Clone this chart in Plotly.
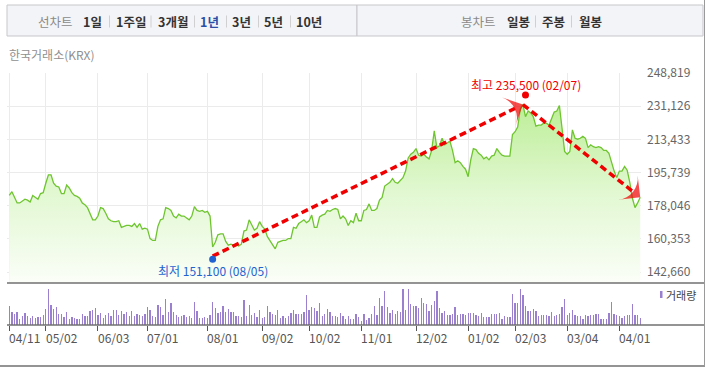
import pandas as pd
import plotly.graph_objects as go

# ---------------- data ----------------
START_DATE = "2024-04-11"
END_DATE = "2025-04-11"
KRX_HOLIDAYS = ["2024-05-01", "2024-05-06", "2024-05-15", "2024-06-06", "2024-08-15",
                "2024-09-16", "2024-09-17", "2024-09-18", "2024-10-01", "2024-10-03",
                "2024-10-09", "2024-12-25", "2024-12-31", "2025-01-01", "2025-01-27",
                "2025-01-28", "2025-01-29", "2025-01-30", "2025-03-03"]
dates = [d.strftime("%Y-%m-%d") for d in pd.bdate_range(START_DATE, END_DATE)
         if d.strftime("%Y-%m-%d") not in KRX_HOLIDAYS]

close_prices = [
    183500, 185500, 182500, 179500, 179500, 180500, 181500, 181000, 180000, 183500,
    182500, 181500, 184500, 185000, 190000, 194500, 194500, 190000, 188500, 188000,
    184500, 184500, 189000, 187500, 185000, 183500, 183000, 182000, 179500, 178500,
    177000, 173500, 170500, 170500, 172500, 177000, 176500, 174000, 171000, 170000,
    169500, 169500, 170000, 166500, 167000, 167500, 167500, 167000, 168500, 166500,
    168500, 165500, 166000, 165500, 160500, 159500, 159500, 167000, 170500, 171000,
    177000, 176500, 175500, 172500, 171500, 173500, 172500, 172500, 171500, 170500,
    172500, 177500, 175500, 175000, 175500, 174500, 175000, 172500, 156000, 158500,
    162500, 163000, 163000, 159000, 157000, 157500, 157000, 157500, 156500, 157500,
    164500, 165000, 170500, 167500, 165000, 166000, 169500, 167000, 165500, 161500,
    159500, 157500, 155000, 158500, 159000, 159500, 159500, 160500, 160500, 166500,
    166000, 168500, 169500, 170500, 169000, 170000, 173000, 166500, 166500, 172000,
    173000, 173500, 175500, 175000, 176000, 176500, 176000, 171000, 172500, 171000,
    167500, 170000, 169000, 174000, 170000, 170000, 175500, 176000, 179000, 175500,
    175500, 176500, 181000, 182500, 188500, 189500, 190500, 192500, 190500, 190000,
    191500, 193000, 196500, 203500, 205500, 206500, 208500, 205000, 204500, 205500,
    204000, 203000, 207500, 218000, 209000, 210000, 214000, 210500, 211500, 212500,
    207500, 201000, 202000, 201000, 199000, 197500, 193500, 202500, 208500, 208000,
    206000, 205000, 203000, 204000, 202500, 204500, 205000, 208500, 206500, 205000,
    204500, 204500, 204500, 216000, 217500, 220000, 229500, 232000, 225500, 228500,
    227500, 225500, 220500, 221000, 221000, 222000, 222000, 221000, 225000, 228000,
    228500, 231500, 219500, 207000, 205500, 207000, 218500, 214000, 213500, 214000,
    215000, 214000, 209000, 210500, 209500, 209000, 209500, 209000, 207500, 207500,
    206000, 201000, 196500, 193000, 196500, 196500, 199000, 197000, 190500, 182000,
    177000, 179500, 182500,
]

volumes_k = [
    2850, 1950, 1600, 2000, 900, 1350, 1800, 1350, 1000, 1350,
    1100, 1150, 1250, 1500, 2400, 5400, 3000, 2450, 2650, 1650,
    1650, 1250, 1950, 900, 1250, 1100, 850, 850, 1650, 1350,
    1350, 2100, 2250, 2500, 1500, 1750, 1050, 1500, 1800, 1350,
    2250, 2250, 1500, 2100, 1650, 1900, 1400, 2100, 1400, 1600,
    1500, 1400, 1650, 2700, 2250, 1350, 1150, 3000, 2750, 1500,
    3900, 1900, 3300, 1950, 1500, 1250, 1350, 1500, 1250, 1350,
    1000, 3450, 2100, 1000, 1000, 1150, 1100, 1500, 3450, 2500,
    1750, 1900, 2850, 1900, 2400, 2000, 1900, 1350, 1350, 1250,
    3750, 1350, 3000, 1500, 1750, 1150, 2250, 1100, 1250, 2850,
    1950, 1600, 1500, 2250, 1100, 1350, 1000, 1350, 1850, 2250,
    1600, 1650, 1650, 1950, 4500, 2250, 2650, 2600, 2100, 3300,
    1350, 1600, 2350, 1950, 1350, 1350, 1250, 1750, 1350, 850,
    1350, 950, 850, 1600, 1250, 600, 1650, 750, 1100, 1650,
    2850, 1500, 4100, 2850, 5100, 2750, 1750, 2250, 1650, 2100,
    1900, 5400, 2250, 5400, 3150, 2850, 2850, 2550, 4050, 3250,
    3150, 2100, 3000, 3600, 5100, 2500, 1750, 2050, 1500, 1500,
    1650, 2700, 1500, 1650, 1650, 1500, 1750, 1800, 1800, 1500,
    1350, 1800, 1150, 1150, 1250, 1650, 1650, 1650, 1750, 950,
    1350, 1150, 1150, 4650, 3300, 3300, 5400, 4500, 2850, 2100,
    2100, 2350, 2100, 1350, 1500, 1500, 1450, 1350, 1900, 1350,
    1500, 1650, 2650, 3900, 1500, 1800, 2250, 1500, 1350, 1350,
    950, 1500, 1350, 1450, 1450, 1650, 1650, 950, 950, 950,
    1800, 3450, 1650, 1450, 1350, 1100, 1350, 1500, 1500, 3150,
    1500, 1500, 1100,
]

tick_dates = ["2024-04-11", "2024-05-02", "2024-06-03", "2024-07-01", "2024-08-01",
              "2024-09-02", "2024-10-02", "2024-11-01", "2024-12-02", "2025-01-02",
              "2025-02-03", "2025-03-04", "2025-04-01"]
tick_labels = ["04/11", "05/02", "06/03", "07/01", "08/01", "09/02", "10/02",
               "11/01", "12/02", "01/02", "02/03", "03/04", "04/01"]
price_ticks = [142660, 160353, 178046, 195739, 213433, 231126, 248819]

high_date, high_value = "2025-02-07", 235500
low_date, low_value = "2024-08-05", 151100

line_periods = ["1일", "1주일", "3개월", "1년", "3년", "5년", "10년"]
candle_periods = ["일봉", "주봉", "월봉"]

# ---------------- layout geometry ----------------
W, H = 707, 367
ML, MR, MT, MB = 7, 66, 73, 42
PW, PH = W - ML - MR, H - MT - MB
VOL_H = 42


def px_x(px):
    return (px - ML) / PW


def px_y(py):
    return (H - MB - py) / PH


FONT = "Noto Sans CJK KR"
RED = "#f00000"
BLUE = "#1f62d0"

peak_i = close_prices.index(max(close_prices))
peak_date, peak_close = dates[peak_i], close_prices[peak_i]
last_date, last_close = dates[-1], close_prices[-1]

fig = go.Figure()

fig.add_trace(go.Scatter(
    x=dates, y=close_prices, mode="lines", fill="tozeroy",
    line=dict(color="#6ec52f", width=1.3),
    fillgradient=dict(type="vertical",
                      colorscale=[[0, "#fbfef8"], [0.5, "#e2f8d2"], [1, "#bdee98"]],
                      start=136791, stop=max(close_prices)),
    xaxis="x", yaxis="y", hoverinfo="skip"))

fig.add_trace(go.Bar(
    x=dates, y=volumes_k, xaxis="x2", yaxis="y2", width=0.5,
    marker=dict(color="#9a80cf", line=dict(width=0)), hoverinfo="skip"))

dash = "7px,4px"
for xs, ys in [([low_date, peak_date], [low_value, peak_close]),
               ([peak_date, last_date], [peak_close, last_close])]:
    fig.add_trace(go.Scatter(
        x=xs, y=ys, mode="lines+markers", xaxis="x", yaxis="y",
        line=dict(color=RED, width=3.5, dash=dash),
        marker=dict(symbol="arrow-wide", size=[0, 22], color=RED, angleref="previous",
                    line=dict(width=0)),
        hoverinfo="skip"))

shapes = []
# high / low dots
shapes.append(dict(type="circle", xref="x", yref="y", xsizemode="pixel", ysizemode="pixel",
                   xanchor=high_date, yanchor=high_value, x0=-3.5, x1=3.5, y0=-0.5, y1=6.5,
                   fillcolor=RED, line=dict(width=0)))
shapes.append(dict(type="circle", xref="x", yref="y", xsizemode="pixel", ysizemode="pixel",
                   xanchor=low_date, yanchor=low_value, x0=-3.5, x1=3.5, y0=-6.5, y1=0.5,
                   fillcolor=BLUE, line=dict(width=0)))

# frame lines
AX = "#707070"
shapes.append(dict(type="line", xref="paper", yref="paper", x0=px_x(7), x1=px_x(705),
                   y0=px_y(283), y1=px_y(283), line=dict(color=AX, width=1.5)))
shapes.append(dict(type="line", xref="paper", yref="paper", x0=px_x(7), x1=px_x(705),
                   y0=px_y(325), y1=px_y(325), line=dict(color=AX, width=1.5)))
shapes.append(dict(type="line", xref="paper", yref="paper", x0=px_x(0), x1=px_x(705),
                   y0=px_y(366), y1=px_y(366), line=dict(color=AX, width=1.5)))
shapes.append(dict(type="line", xref="paper", yref="paper", x0=px_x(704.5), x1=px_x(704.5),
                   y0=px_y(0), y1=px_y(366), line=dict(color="#9a9a9a", width=1)))

# top bar boxes
for x0, x1 in [(7, 357), (357, 703)]:
    shapes.append(dict(type="rect", xref="paper", yref="paper", x0=px_x(x0), x1=px_x(x1),
                       y0=px_y(36), y1=px_y(5), fillcolor="#f3f4f7",
                       line=dict(color="#c6c7ca", width=1), layer="below"))

annotations = []


def add_text(text, cx, cy, color, size=12.5, bold=False, anchor="center"):
    annotations.append(dict(text=f"<b>{text}</b>" if bold else text, x=px_x(cx), y=px_y(cy),
                            xref="paper", yref="paper", showarrow=False, xanchor=anchor,
                            yanchor="middle", font=dict(family=FONT, size=size, color=color)))


add_text("선차트", 55.5, 21, "#8a8a8a")
line_centers = [92.5, 130.5, 172.5, 209.5, 241, 273.5, 308.5]
for lbl, cx in zip(line_periods, line_centers):
    add_text(lbl, cx, 21, "#2b4fa8" if lbl == "1년" else "#333333", bold=True)
for sx in [109.5, 151, 194.5, 226.5, 258.5, 290.5]:
    shapes.append(dict(type="line", xref="paper", yref="paper", x0=px_x(sx), x1=px_x(sx),
                       y0=px_y(15.5), y1=px_y(27.5), line=dict(color="#d0d0d0", width=1)))
add_text("봉차트", 478.5, 21, "#8a8a8a")
for lbl, cx in zip(candle_periods, [518, 553, 590]):
    add_text(lbl, cx, 21, "#333333", bold=True)
for sx in [535.5, 571.5]:
    shapes.append(dict(type="line", xref="paper", yref="paper", x0=px_x(sx), x1=px_x(sx),
                       y0=px_y(15.5), y1=px_y(27.5), line=dict(color="#d0d0d0", width=1)))

add_text("한국거래소(KRX)", 7, 54, "#8f8f8f", size=12, anchor="left")

# x tick labels (left aligned at each tick)
for d, lbl in zip(tick_dates, tick_labels):
    annotations.append(dict(text=lbl, x=d, y=px_y(337), xref="x2", yref="paper",
                            showarrow=False, xanchor="left", yanchor="middle", xshift=-2,
                            font=dict(family=FONT, size=12, color="#555555")))

# volume legend
shapes.append(dict(type="rect", xref="paper", yref="paper", x0=px_x(660), x1=px_x(662.5),
                   y0=px_y(298), y1=px_y(291), fillcolor="#9a80cf", line=dict(width=0)))
add_text("거래량", 664, 295, "#444444", size=11, anchor="left")

# high / low labels
annotations.append(dict(text=f"최고 {high_value:,} ({high_date[5:7]}/{high_date[8:]})",
                        x=high_date, y=high_value, xref="x", yref="y", showarrow=False,
                        xanchor="center", yanchor="middle", yshift=13,
                        font=dict(family=FONT, size=12, color=RED)))
annotations.append(dict(text=f"최저 {low_value:,} ({low_date[5:7]}/{low_date[8:]})",
                        x=low_date, y=low_value, xref="x", yref="y", showarrow=False,
                        xanchor="center", yanchor="middle", yshift=-14,
                        font=dict(family=FONT, size=12, color=BLUE)))

xr = [-0.88, len(dates) - 0.7]
vol_max = max(volumes_k)
fig.update_layout(
    width=W, height=H, margin=dict(l=ML, r=MR, t=MT, b=MB),
    paper_bgcolor="white", plot_bgcolor="white", showlegend=False,
    xaxis=dict(type="category", domain=[0, 1], anchor="y", range=xr, tickvals=tick_dates,
               showticklabels=False, ticks="", showgrid=True, gridcolor="#ebebeb", gridwidth=1,
               zeroline=False, showline=False, fixedrange=True),
    yaxis=dict(domain=[VOL_H / PH, 1], anchor="x", side="right", range=[136791, 248819],
               tickvals=price_ticks, ticktext=[f"{v:,}" for v in price_ticks],
               tickfont=dict(family=FONT, size=12, color="#666666"), ticks="",
               ticklabelstandoff=5, showgrid=True, gridcolor="#ebebeb", gridwidth=1,
               zeroline=False, showline=False, fixedrange=True),
    xaxis2=dict(type="category", domain=[0, 1], anchor="y2", range=xr, tickvals=tick_dates,
                showticklabels=False, ticks="outside", ticklen=5, tickcolor="#555555",
                tickwidth=1, showgrid=False, zeroline=False, showline=False, fixedrange=True),
    yaxis2=dict(domain=[0, VOL_H / PH], anchor="x2", range=[0, vol_max * 42 / 36],
                showticklabels=False, ticks="", showgrid=False, zeroline=False,
                showline=False, fixedrange=True),
    shapes=shapes, annotations=annotations, bargap=0,
)

fig.write_html("out.html", config={"displayModeBar": False, "staticPlot": True},
               post_script="document.body.style.margin='0';")
